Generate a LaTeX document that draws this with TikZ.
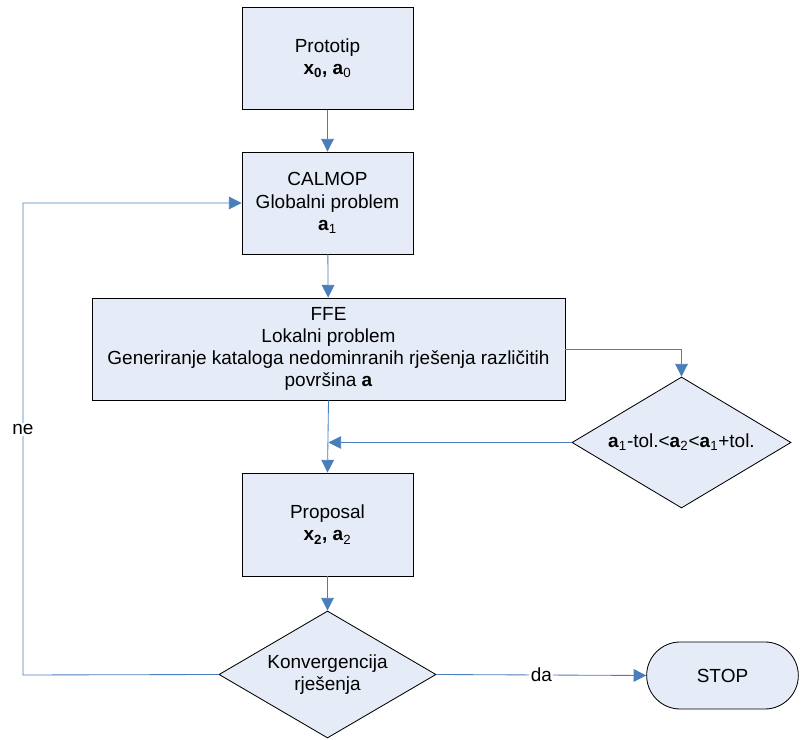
\documentclass[tikz,border=0pt]{standalone}
\usepackage{fontspec}
\setmainfont{Liberation Sans}
\usepackage{tikz}
\usetikzlibrary{shapes.geometric, shapes.misc, arrows.meta, positioning}
\definecolor{boxfill}{HTML}{E6ECF7}
\definecolor{flowblue}{HTML}{4A7EBB}

\begin{document}
\begin{tikzpicture}[
    x=0.025cm, y=-0.025cm,
    every node/.style={font=\fontsize{13.5}{15.8}\selectfont},
    process/.style={draw,line width=0.6pt,fill=boxfill,align=center,minimum width=4.275cm,minimum height=2.55cm},
    decision/.style={draw,line width=0.6pt,fill=boxfill,diamond,align=center,inner sep=0pt,shape aspect=1.68},
    terminal/.style={draw,line width=0.6pt,fill=boxfill,rounded rectangle,minimum width=4.025cm,minimum height=1.675cm},
    flow/.style={draw=flowblue,line width=0.6pt,-{Triangle[length=9pt,width=9pt]},color=flowblue},
    tag/.style={fill=white,inner sep=1pt,text=black}
  ]
    \useasboundingbox (0,0) rectangle (805,740);

    \node[process] (proto) at (327.5,58.5) {Prototip\\\textbf{x\textsubscript{0}, a}\textsubscript{0}};
    \node[process] (calmop) at (327.5,203) {CALMOP\\Globalni problem\\\textbf{a}\textsubscript{1}};
    \node[process, minimum width=11.825cm] (ffe) at (328.5,349) {FFE\\Lokalni problem\\Generiranje kataloga nedominranih rješenja različitih\\površina \textbf{a}};
    \node[decision, minimum width=5.475cm, minimum height=3.275cm] (tol) at (681.5,442.5) {\textbf{a}\textsubscript{1}-tol.<\textbf{a}\textsubscript{2}<\textbf{a}\textsubscript{1}+tol.};
    \node[process, minimum height=2.575cm] (prop) at (327.5,524.5) {Proposal\\\textbf{x\textsubscript{2}, a}\textsubscript{2}};
    \node[decision, minimum width=5.425cm, minimum height=3.175cm] (conv) at (327.5,674.5) {Konvergencija\\rješenja};
    \node[terminal] (stop) at (722.5,675.5) {STOP};

    \coordinate (join) at (ffe.south |- tol.west);
    \coordinate (nebend) at (23,675);

    \draw[flow] (proto) -- (calmop);
    \draw[flow] (calmop) -- (ffe);
    \draw[flow] (ffe.east) -| (tol.north);
    \draw[flow] (tol.west) -- (join);
    \draw[flow] (ffe.south) -- (prop.north);
    \draw[flow] (prop) -- (conv);
    \draw[flow] (conv.east) -- node[tag] {da} (stop.west);
    \draw[flow] (conv.west) -- (nebend) |- node[tag, pos=0.26] {ne} (calmop.west);
  \end{tikzpicture}
\end{document}
